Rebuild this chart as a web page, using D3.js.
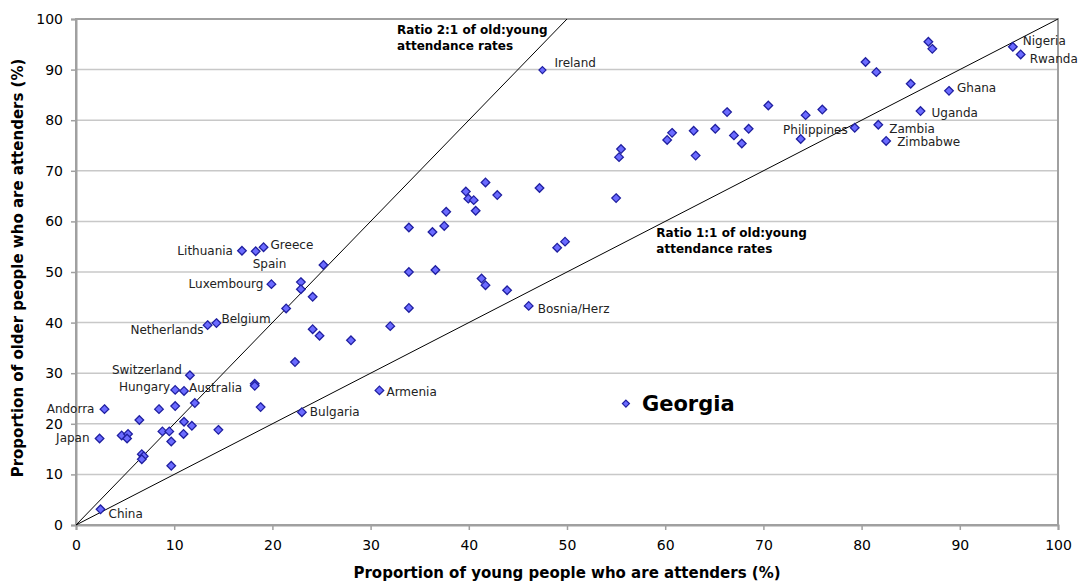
<!DOCTYPE html>
<html>
<head>
<meta charset="utf-8">
<script src="https://cdn.jsdelivr.net/npm/d3@7/dist/d3.min.js"></script>
<style>
  html, body { margin: 0; padding: 0; background: #fff; }
  svg { display: block; font-family: "DejaVu Sans", Verdana, sans-serif; }
</style>
</head>
<body>
<svg id="chart" width="1079" height="581"></svg>
<script>
// ---- Data ----
const youngPct = [2.5, 2.4, 2.9, 4.65, 5.3, 5.2, 6.45, 6.7, 6.9, 6.7, 8.45, 8.8, 9.5, 9.7, 9.7,
  10.1, 10.1, 11.0, 11.0, 10.95, 11.6, 11.8, 12.1, 14.5, 13.4, 14.3, 16.9, 18.3, 19.1, 19.9,
  18.2, 18.2, 18.8, 21.4, 22.3, 22.9, 22.9, 23.0, 24.1, 24.1, 24.8, 25.2, 28.0, 30.9, 32.0,
  33.9, 33.9, 33.9, 36.3, 36.6, 37.5, 37.7, 39.7, 39.95, 40.5, 40.7, 41.7, 42.9, 41.3, 41.7,
  43.9, 46.1, 47.2, 49.0, 49.8, 55.0, 55.3, 55.5, 60.2, 60.7, 62.9, 63.1, 65.1, 66.3, 67.0,
  67.8, 68.5, 70.5, 74.3, 73.8, 76.0, 79.3, 80.4, 81.5, 81.7, 82.5, 85.0, 86.0, 86.8, 87.2,
  88.9, 95.4, 96.2];
const oldPct = [3.1, 17.1, 22.9, 17.7, 18.0, 17.1, 20.75, 14.0, 13.6, 13.0, 22.9, 18.5, 18.5, 16.5, 11.7,
  26.7, 23.5, 26.5, 20.4, 18.0, 29.6, 19.6, 24.1, 18.8, 39.5, 39.9, 54.2, 54.1, 54.9, 47.6,
  27.9, 27.5, 23.3, 42.8, 32.2, 48.0, 46.6, 22.3, 45.1, 38.7, 37.4, 51.4, 36.5, 26.6, 39.3,
  58.8, 50.0, 42.9, 57.9, 50.4, 59.1, 61.9, 65.9, 64.5, 64.2, 62.1, 67.7, 65.2, 48.7, 47.4,
  46.4, 43.3, 66.6, 54.8, 56.0, 64.6, 72.7, 74.3, 76.1, 77.5, 77.9, 73.0, 78.3, 81.6, 77.0,
  75.4, 78.3, 82.9, 81.0, 76.3, 82.1, 78.5, 91.5, 89.5, 79.1, 75.9, 87.2, 81.8, 95.5, 94.1,
  85.8, 94.5, 93.0];
const countries = ["China", "Japan", "Andorra", "", "", "", "", "", "", "", "", "", "", "", "",
  "Hungary", "", "Australia", "", "", "Switzerland", "", "", "", "Netherlands", "Belgium", "Lithuania", "Spain", "Greece", "Luxembourg",
  "", "", "", "", "", "", "", "Bulgaria", "", "", "", "", "", "Armenia", "",
  "", "", "", "", "", "", "", "", "", "", "", "", "", "", "",
  "", "Bosnia/Herz", "", "", "", "", "", "", "", "", "", "", "", "", "",
  "", "", "", "", "", "", "Philippines", "", "", "Zambia", "Zimbabwe", "", "Uganda", "", "",
  "Ghana", "Nigeria", "Rwanda"];

// highlighted series
const hiCountries = ["Ireland", "Georgia"];
const hiYoung = [47.5, 56.0];
const hiOld = [89.9, 24.0];

// reference lines (old:young ratio)
const ratios = [2, 1];
const ratioLabels = [["Ratio 2:1 of old:young", "attendance rates"], ["Ratio 1:1 of old:young", "attendance rates"]];

const xTicks = [0, 10, 20, 30, 40, 50, 60, 70, 80, 90, 100];
const yTicks = [0, 10, 20, 30, 40, 50, 60, 70, 80, 90, 100];
const xTitle = "Proportion of young people who are attenders (%)";
const yTitle = "Proportion of older people who are attenders (%)";

// ---- Layout (label placement) ----
const labelPos = {
  "China": [8, 4, "start"], "Japan": [-10, -1, "end"], "Andorra": [-10, 0, "end"],
  "Hungary": [-5, -3, "end"], "Australia": [5, -3, "start"], "Switzerland": [-8, -5, "end"],
  "Netherlands": [-4, 5, "end"], "Belgium": [5, -4, "start"], "Lithuania": [-9, 0, "end"],
  "Spain": [-3, 13, "start"], "Greece": [7, -2, "start"], "Luxembourg": [-8, 0, "end"],
  "Bulgaria": [8, 0, "start"], "Armenia": [7, 1, "start"], "Bosnia/Herz": [9, 3, "start"],
  "Philippines": [-7, 2, "end"], "Zambia": [11, 4, "start"], "Zimbabwe": [11, 1, "start"],
  "Uganda": [11, 2, "start"], "Ghana": [8, -3, "start"], "Nigeria": [10, -6, "start"],
  "Rwanda": [9, 4, "start"], "Ireland": [12, -7, "start"], "Georgia": [16, 0, "start"]
};

const W = 1079, H = 581;
const m = { left: 76, right: 21, top: 19, bottom: 56 };
const svg = d3.select("#chart");

const x = d3.scaleLinear().domain([0, 100]).range([m.left, W - m.right]);
const y = d3.scaleLinear().domain([0, 100]).range([H - m.bottom, m.top]);

// gridlines
svg.append("g").selectAll("line").data(yTicks.filter(t => t > 0 && t < 100)).join("line")
  .attr("x1", x(0)).attr("x2", x(100))
  .attr("y1", d => y(d)).attr("y2", d => y(d))
  .attr("stroke", "#c8c8c8").attr("stroke-width", 1.5);

// frame
svg.append("rect")
  .attr("x", x(0)).attr("y", y(100)).attr("width", x(100) - x(0)).attr("height", y(0) - y(100))
  .attr("fill", "none").attr("stroke", "#a0a0a0").attr("stroke-width", 2);

// axes
const xAxis = svg.append("g").attr("transform", `translate(0,${y(0)})`)
  .call(d3.axisBottom(x).tickValues(xTicks).tickSize(5).tickPadding(10).tickFormat(d3.format("d")));
const yAxis = svg.append("g").attr("transform", `translate(${x(0)},0)`)
  .call(d3.axisLeft(y).tickValues(yTicks).tickSize(5).tickPadding(8).tickFormat(d3.format("d")));
[xAxis, yAxis].forEach(a => {
  a.select(".domain").attr("stroke", "#a0a0a0").attr("stroke-width", 2);
  a.selectAll(".tick line").attr("stroke", "#a0a0a0").attr("stroke-width", 1.5);
  a.selectAll(".tick text").attr("fill", "#000").style("font-size", "14px")
    .style("font-family", '"DejaVu Sans", Verdana, sans-serif');
});

// reference lines
const clip = r => Math.min(100, 100 / r);
svg.append("g").selectAll("line").data(ratios).join("line")
  .attr("x1", x(0)).attr("y1", y(0))
  .attr("x2", r => x(clip(r))).attr("y2", r => y(clip(r) * r))
  .attr("stroke", "#000").attr("stroke-width", 1);

// ratio labels
const ratioAnchor = [[32.7, 97], [59.1, 57]];
ratios.forEach((r, i) => {
  const t = svg.append("text").attr("x", x(ratioAnchor[i][0])).attr("y", y(ratioAnchor[i][1]))
    .style("font-size", "12px").style("font-weight", "bold").attr("fill", "#000");
  ratioLabels[i].forEach((s, j) => t.append("tspan").attr("x", x(ratioAnchor[i][0])).attr("dy", j ? 16 : 0).text(s));
});

// markers
const diamond = (cx, cy, s) => `M${cx},${cy - s}L${cx + s},${cy}L${cx},${cy + s}L${cx - s},${cy}Z`;
const pts = youngPct.map((v, i) => ({ x: v, y: oldPct[i], name: countries[i] }));
const hiPts = hiYoung.map((v, i) => ({ x: v, y: hiOld[i], name: hiCountries[i] }));

svg.append("g").selectAll("path").data(pts).join("path")
  .attr("d", d => diamond(x(d.x), y(d.y), 4.3))
  .attr("fill", "#6b6bff").attr("stroke", "#1f1fa0").attr("stroke-width", 1.3);
svg.append("g").selectAll("path").data(hiPts).join("path")
  .attr("d", d => diamond(x(d.x), y(d.y), 3.5))
  .attr("fill", "#6b6bff").attr("stroke", "#1f1fa0").attr("stroke-width", 1.2);

// labels
const allLabeled = pts.concat(hiPts).filter(d => d.name);
svg.append("g").selectAll("text").data(allLabeled).join("text")
  .attr("x", d => x(d.x) + labelPos[d.name][0])
  .attr("y", d => y(d.y) + labelPos[d.name][1])
  .attr("dy", "0.35em")
  .attr("text-anchor", d => labelPos[d.name][2])
  .style("font-size", d => d.name === "Georgia" ? "21px" : "12px")
  .style("font-weight", d => d.name === "Georgia" ? "bold" : "normal")
  .attr("fill", d => d.name === "Georgia" ? "#000" : "#222")
  .text(d => d.name);

// axis titles
svg.append("text").attr("x", (x(0) + x(100)) / 2).attr("y", 578)
  .attr("text-anchor", "middle").style("font-size", "15px").style("font-weight", "bold")
  .text(xTitle);
svg.append("text").attr("transform", `translate(23,268) rotate(-90)`)
  .attr("text-anchor", "middle").style("font-size", "15px").style("font-weight", "bold")
  .text(yTitle);
</script>
</body>
</html>
